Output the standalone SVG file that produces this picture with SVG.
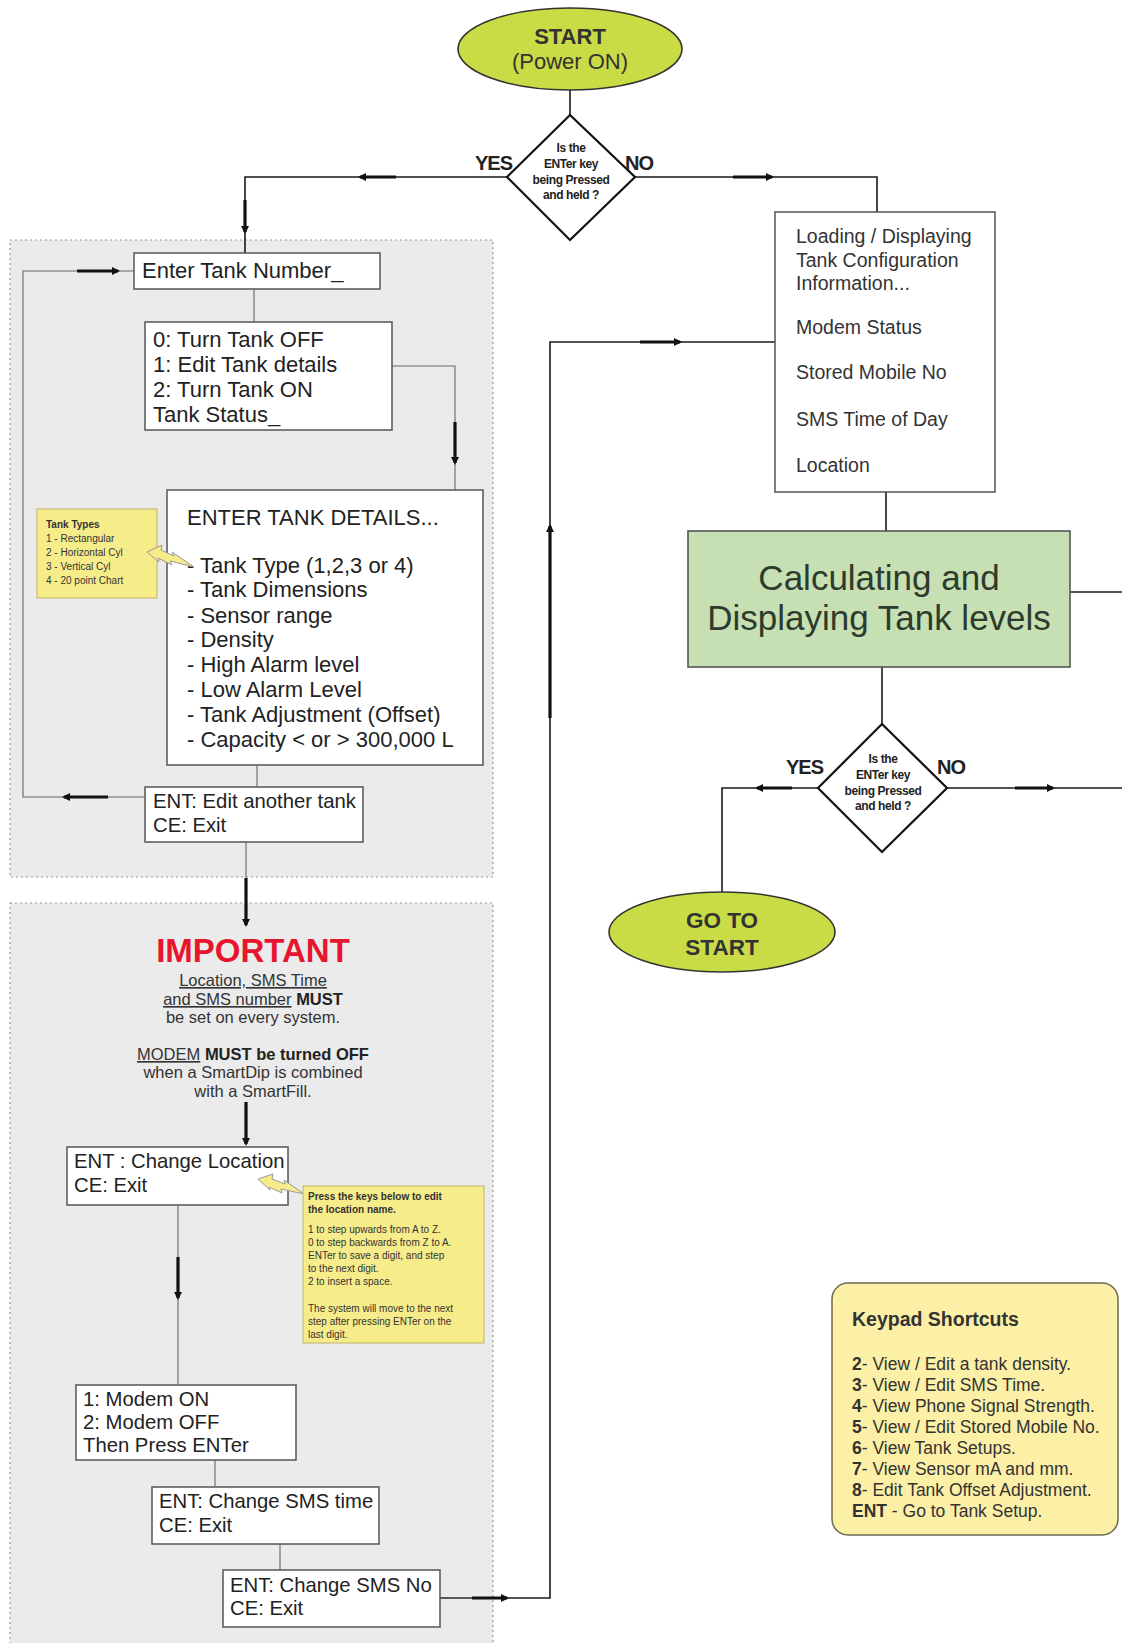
<svg xmlns="http://www.w3.org/2000/svg" width="1122" height="1643" viewBox="0 0 1122 1643">
<style>
text{font-family:"Liberation Sans",Arial,sans-serif;fill:#222}
.box{fill:#fff;stroke:#555;stroke-width:1.5}
.region{fill:#ebebeb;stroke:#999;stroke-width:1.2;stroke-dasharray:2 3}
.term{fill:#c9dc45;stroke:#333;stroke-width:1.6}
.dia{fill:#fff;stroke:#111;stroke-width:2.2}
.note{fill:#f6ec8a;stroke:#bdb46a;stroke-width:1}
.c{fill:none;stroke:#1a1a1a;stroke-width:1.6}
.ci{fill:none;stroke:#666;stroke-width:1.1}
.ar{fill:none;stroke:#111;stroke-width:3.2;marker-end:url(#ah)}
.bt{font-size:22px}
.mt{font-size:20.3px}
.lt{font-size:19.5px;fill:#333}
.dt{font-size:12px;font-weight:bold;letter-spacing:-0.4px}
.yn{font-size:20px;font-weight:bold;letter-spacing:-1px}
.imp{font-size:16.5px;fill:#333}
.kp{font-size:17.5px;fill:#333}
.sm{font-size:10px;fill:#333}
</style>
<defs>
<marker id="ah" markerUnits="userSpaceOnUse" markerWidth="10" markerHeight="8" refX="6" refY="4" orient="auto">
<path d="M0,0 L8,4 L0,8 z" fill="#111"/>
</marker>
</defs>

<g id="region-tank-setup"><rect class="region" x="10" y="240" width="483" height="637"/></g>
<g id="region-settings"><rect class="region" x="10" y="903" width="483" height="760"/></g>

<g id="connectors">
<line class="c" x1="570" y1="90" x2="570" y2="115"/>
<polyline class="c" points="507,177 245,177 245,253"/>
<polyline class="c" points="635,177 877,177 877,212"/>
<line class="ar" x1="396" y1="177" x2="360" y2="177"/>
<line class="ar" x1="733" y1="177" x2="772" y2="177"/>
<line class="ar" x1="245" y1="200" x2="245" y2="232"/>

<polyline class="ci" points="134,271 23,271 23,797 145,797"/>
<line class="ar" x1="77" y1="271" x2="118" y2="271"/>
<line class="ar" x1="108" y1="797" x2="64" y2="797"/>
<line class="ci" x1="254" y1="289" x2="254" y2="322"/>
<polyline class="ci" points="348,366 455,366 455,490"/>
<line class="ar" x1="455" y1="422" x2="455" y2="463"/>
<line class="ci" x1="257" y1="765" x2="257" y2="787"/>
<polyline class="ci" points="233,826 246,826 246,880"/>
<line class="ar" x1="246" y1="878" x2="246" y2="925"/>
<line class="ar" x1="246" y1="1102" x2="246" y2="1144"/>
<polyline class="ci" points="158,1188 178,1188 178,1384"/>
<line class="ar" x1="178" y1="1257" x2="178" y2="1298"/>
<line class="ci" x1="215" y1="1459" x2="215" y2="1486"/>
<line class="ci" x1="280" y1="1543" x2="280" y2="1570"/>

<polyline class="c" points="440,1598 550,1598 550,342 775,342"/>
<line class="ci" x1="440" y1="1598" x2="475" y2="1598"/>
<line class="ar" x1="472" y1="1598" x2="507" y2="1598"/>
<line class="ar" x1="550" y1="718" x2="550" y2="526"/>
<line class="ar" x1="640" y1="342" x2="680" y2="342"/>

<line class="c" x1="886" y1="492" x2="886" y2="531"/>
<line class="c" x1="1070" y1="592" x2="1122" y2="592"/>
<line class="c" x1="882" y1="667" x2="882" y2="724"/>
<polyline class="c" points="818,788 722,788 722,893"/>
<line class="ar" x1="792" y1="788" x2="757" y2="788"/>
<line class="c" x1="947" y1="788" x2="1122" y2="788"/>
<line class="ar" x1="1015" y1="788" x2="1053" y2="788"/>
</g>

<g id="start">
<ellipse class="term" cx="570" cy="49" rx="112" ry="41"/>
<text x="570" y="44" text-anchor="middle" style="font-size:22px;font-weight:bold;fill:#333">START</text>
<text x="570" y="69" text-anchor="middle" style="font-size:22px;fill:#333">(Power ON)</text>
</g>

<g id="decision1">
<polygon class="dia" points="570,115 635,177 570,240 507,177"/>
<text class="dt" x="571" y="152" text-anchor="middle">Is the</text>
<text class="dt" x="571" y="168" text-anchor="middle">ENTer key</text>
<text class="dt" x="571" y="184" text-anchor="middle">being Pressed</text>
<text class="dt" x="571" y="199" text-anchor="middle">and held ?</text>
<text class="yn" x="475" y="170">YES</text>
<text class="yn" x="625" y="170">NO</text>
</g>

<g id="enter-tank-number">
<rect class="box" x="134" y="253" width="246" height="36"/>
<text class="bt" x="142" y="278">Enter Tank Number_</text>
</g>

<g id="tank-status">
<rect class="box" x="145" y="322" width="247" height="108"/>
<text class="bt" x="153" y="347">0: Turn Tank OFF</text>
<text class="bt" x="153" y="372">1: Edit Tank details</text>
<text class="bt" x="153" y="397">2: Turn Tank ON</text>
<text class="bt" x="153" y="422">Tank Status_</text>
</g>

<g id="tank-details">
<rect class="box" x="167" y="490" width="316" height="275"/>
<text class="bt" x="187" y="525">ENTER TANK DETAILS...</text>
<text class="bt" x="187" y="573">- Tank Type (1,2,3 or 4)</text>
<text class="bt" x="187" y="597">- Tank Dimensions</text>
<text class="bt" x="187" y="623">- Sensor range</text>
<text class="bt" x="187" y="647">- Density</text>
<text class="bt" x="187" y="672">- High Alarm level</text>
<text class="bt" x="187" y="697">- Low Alarm Level</text>
<text class="bt" x="187" y="722">- Tank Adjustment (Offset)</text>
<text class="bt" x="187" y="747">- Capacity &lt; or &gt; 300,000 L</text>
</g>

<g id="tank-types-note">
<rect class="note" x="37" y="509" width="120" height="89"/>
<text class="sm" x="46" y="528" style="font-weight:bold">Tank Types</text>
<text class="sm" x="46" y="542">1 - Rectangular</text>
<text class="sm" x="46" y="556">2 - Horizontal Cyl</text>
<text class="sm" x="46" y="570">3 - Vertical Cyl</text>
<text class="sm" x="46" y="584">4 - 20 point Chart</text>
<polygon class="note" points="147,552 162,545 161,550 174,556 172,552 194,567 170,561 172,565 158,558 159,562" style="stroke:#999"/>
</g>

<g id="edit-another">
<rect class="box" x="145" y="787" width="218" height="55"/>
<text class="mt" x="153" y="808">ENT: Edit another tank</text>
<text class="mt" x="153" y="832">CE: Exit</text>
</g>

<g id="important">
<text x="253" y="962" text-anchor="middle" style="font-size:33px;font-weight:bold;fill:#e8152e">IMPORTANT</text>
<text class="imp" x="253" y="986" text-anchor="middle" text-decoration="underline">Location, SMS Time</text>
<text class="imp" x="253" y="1005" text-anchor="middle"><tspan text-decoration="underline">and SMS number</tspan> <tspan style="font-weight:bold;fill:#222">MUST</tspan></text>
<text class="imp" x="253" y="1023" text-anchor="middle">be set on every system.</text>
<text class="imp" x="253" y="1060" text-anchor="middle"><tspan text-decoration="underline">MODEM</tspan> <tspan style="font-weight:bold;fill:#222">MUST be turned OFF</tspan></text>
<text class="imp" x="253" y="1078" text-anchor="middle">when a SmartDip is combined</text>
<text class="imp" x="253" y="1097" text-anchor="middle">with a SmartFill.</text>
</g>

<g id="change-location">
<rect class="box" x="67" y="1147" width="221" height="58"/>
<text class="mt" x="74" y="1168">ENT : Change Location</text>
<text class="mt" x="74" y="1192">CE: Exit</text>
</g>

<g id="location-note">
<polygon class="note" points="258,1179 273,1174 272,1179 285,1184 284,1180 304,1194 281,1189 282,1193 269,1187 270,1190" style="stroke:#999"/>
<rect class="note" x="303" y="1186" width="181" height="157"/>
<text class="sm" x="308" y="1200" style="font-weight:bold">Press the keys below to edit</text>
<text class="sm" x="308" y="1213" style="font-weight:bold">the location name.</text>
<text class="sm" x="308" y="1233">1 to step upwards from A to Z.</text>
<text class="sm" x="308" y="1246">0 to step backwards from Z to A.</text>
<text class="sm" x="308" y="1259">ENTer to save a digit, and step</text>
<text class="sm" x="308" y="1272">to the next digit.</text>
<text class="sm" x="308" y="1285">2 to insert a space.</text>
<text class="sm" x="308" y="1312">The system will move to the next</text>
<text class="sm" x="308" y="1325">step after pressing ENTer on the</text>
<text class="sm" x="308" y="1338">last digit.</text>
</g>

<g id="modem">
<rect class="box" x="76" y="1385" width="220" height="75"/>
<text class="mt" x="83" y="1406">1: Modem ON</text>
<text class="mt" x="83" y="1429">2: Modem OFF</text>
<text class="mt" x="83" y="1452">Then Press ENTer</text>
</g>

<g id="sms-time">
<rect class="box" x="152" y="1487" width="227" height="57"/>
<text class="mt" x="159" y="1508">ENT: Change SMS time</text>
<text class="mt" x="159" y="1532">CE: Exit</text>
</g>

<g id="sms-no">
<rect class="box" x="223" y="1570" width="217" height="57"/>
<text class="mt" x="230" y="1592">ENT: Change SMS No</text>
<text class="mt" x="230" y="1615">CE: Exit</text>
</g>

<g id="loading">
<rect class="box" x="775" y="212" width="220" height="280"/>
<text class="lt" x="796" y="243">Loading / Displaying</text>
<text class="lt" x="796" y="267">Tank Configuration</text>
<text class="lt" x="796" y="290">Information...</text>
<text class="lt" x="796" y="334">Modem Status</text>
<text class="lt" x="796" y="379">Stored Mobile No</text>
<text class="lt" x="796" y="426">SMS Time of Day</text>
<text class="lt" x="796" y="472">Location</text>
</g>

<g id="calculating">
<rect x="688" y="531" width="382" height="136" style="fill:#c6e0b4;stroke:#555;stroke-width:1.6"/>
<text x="879" y="590" text-anchor="middle" style="font-size:35px;fill:#2e3b2c">Calculating and</text>
<text x="879" y="630" text-anchor="middle" style="font-size:35px;fill:#2e3b2c">Displaying Tank levels</text>
</g>

<g id="decision2">
<polygon class="dia" points="882,724 947,788 882,852 818,788"/>
<text class="dt" x="883" y="763" text-anchor="middle">Is the</text>
<text class="dt" x="883" y="779" text-anchor="middle">ENTer key</text>
<text class="dt" x="883" y="795" text-anchor="middle">being Pressed</text>
<text class="dt" x="883" y="810" text-anchor="middle">and held ?</text>
<text class="yn" x="786" y="774">YES</text>
<text class="yn" x="937" y="774">NO</text>
</g>

<g id="goto-start">
<ellipse class="term" cx="722" cy="932" rx="113" ry="40"/>
<text x="722" y="928" text-anchor="middle" style="font-size:22.5px;font-weight:bold;fill:#333">GO TO</text>
<text x="722" y="955" text-anchor="middle" style="font-size:22.5px;font-weight:bold;fill:#333">START</text>
</g>

<g id="keypad-shortcuts">
<rect x="832" y="1283" width="286" height="252" rx="16" style="fill:#fcefa6;stroke:#6b6a50;stroke-width:1.5"/>
<text x="852" y="1326" style="font-size:19.5px;font-weight:bold;fill:#333">Keypad Shortcuts</text>
<text class="kp" x="852" y="1370"><tspan font-weight="bold">2</tspan>- View / Edit a tank density.</text>
<text class="kp" x="852" y="1391"><tspan font-weight="bold">3</tspan>- View / Edit SMS Time.</text>
<text class="kp" x="852" y="1412"><tspan font-weight="bold">4</tspan>- View Phone Signal Strength.</text>
<text class="kp" x="852" y="1433"><tspan font-weight="bold">5</tspan>- View / Edit Stored Mobile No.</text>
<text class="kp" x="852" y="1454"><tspan font-weight="bold">6</tspan>- View Tank Setups.</text>
<text class="kp" x="852" y="1475"><tspan font-weight="bold">7</tspan>- View Sensor mA and mm.</text>
<text class="kp" x="852" y="1496"><tspan font-weight="bold">8</tspan>- Edit Tank Offset Adjustment.</text>
<text class="kp" x="852" y="1517"><tspan font-weight="bold">ENT</tspan> - Go to Tank Setup.</text>
</g>
</svg>
